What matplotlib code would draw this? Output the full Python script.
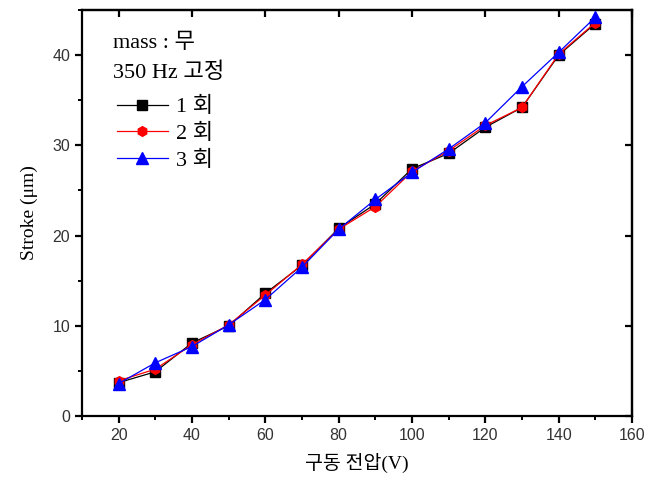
import matplotlib
matplotlib.use("Agg")
import matplotlib.pyplot as plt
from matplotlib.ticker import MultipleLocator

voltage = [20, 30, 40, 50, 60, 70, 80, 90, 100, 110, 120, 130, 140, 150]
run1 = [3.7, 4.9, 8.1, 10.0, 13.6, 16.7, 20.8, 23.5, 27.4, 29.1, 32.0, 34.2, 40.0, 43.5]
run2 = [3.9, 5.2, 7.9, 10.1, 13.4, 16.8, 20.7, 23.2, 27.1, 29.4, 32.2, 34.2, 40.1, 43.6]
run3 = [3.6, 5.9, 7.7, 10.1, 12.9, 16.5, 20.7, 24.0, 27.0, 29.6, 32.5, 36.5, 40.3, 44.2]
labels = ["1 회", "2 회", "3 회"]
xlabel = "구동 전압(V)"
ylabel = "Stroke (μm)"
note1 = "mass : 무"
note2 = "350 Hz 고정"

serif = ["Liberation Serif", "Noto Sans CJK KR"]
sans = ["Liberation Sans", "DejaVu Sans"]

fig = plt.figure(figsize=(6.49, 4.86), dpi=100)
ax = fig.add_axes([82/649, 1-416/486, (632-82)/649, (416-10)/486])

ax.plot(voltage, run1, color="black", marker="s", markersize=6.5, lw=0.9, label=labels[0])
ax.plot(voltage, run2, color="red", marker="h", markersize=7, lw=0.9, label=labels[1])
ax.plot(voltage, run3, color="blue", marker="^", markersize=8, lw=0.9, label=labels[2])

ax.set_xlim(10, 160)
ax.set_ylim(0, 45)
ax.xaxis.set_major_locator(MultipleLocator(20))
ax.xaxis.set_minor_locator(MultipleLocator(10))
ax.yaxis.set_major_locator(MultipleLocator(10))
ax.yaxis.set_minor_locator(MultipleLocator(5))

for s in ax.spines.values():
    s.set_linewidth(1.6)

ax.tick_params(axis="both", which="major", direction="out", length=5, width=1.6,
               labelsize=11.5, labelcolor="#333333", top=False, right=False)
ax.tick_params(axis="both", which="minor", direction="out", length=3, width=1.4,
               top=False, right=False)
for lab in ax.get_xticklabels() + ax.get_yticklabels():
    lab.set_family(sans)

# inward major ticks on top and right via secondary axes
secx = ax.secondary_xaxis("top")
secx.xaxis.set_major_locator(MultipleLocator(20))
secx.tick_params(direction="in", length=5, width=1.6, labeltop=False)
secx.spines["top"].set_linewidth(1.6)
secy = ax.secondary_yaxis("right")
secy.yaxis.set_major_locator(MultipleLocator(10))
secy.tick_params(direction="in", length=5, width=1.6, labelright=False)
secy.spines["right"].set_linewidth(1.6)

ax.set_xlabel(xlabel, fontsize=14, family=serif, labelpad=7)
ax.set_ylabel(ylabel, fontsize=14, family=serif, labelpad=10)

ax.text(0.056, 0.917, note1, transform=ax.transAxes, fontsize=16, family=serif, va="center")
ax.text(0.056, 0.845, note2, transform=ax.transAxes, fontsize=16, family=serif, va="center")

leg = ax.legend(loc="upper left", bbox_to_anchor=(0.047, 0.808), frameon=False,
                prop={"family": serif, "size": 16}, handlelength=2.3,
                handletextpad=0.36, labelspacing=0.27, borderaxespad=0)

fig.savefig("out.png", dpi=100)
